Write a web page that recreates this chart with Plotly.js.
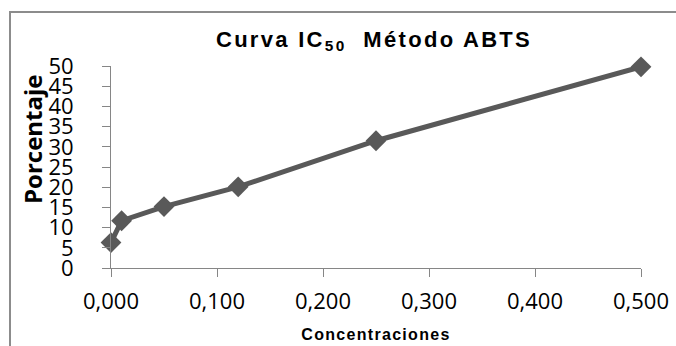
<!DOCTYPE html>
<html>
<head>
<meta charset="utf-8">
<script src="https://cdn.plot.ly/plotly-3.0.1.min.js"></script>
<style>
  html, body { margin: 0; padding: 0; background: #ffffff; }
  #wrap { position: relative; width: 676px; height: 346px; overflow: hidden; }
  #frame { position: absolute; left: 9px; top: 11px; width: 720px; height: 400px;
           border: 2px solid #8c8c8c; box-sizing: border-box; pointer-events: none; z-index: 2; }
  #chart { position: absolute; left: 0; top: 0; width: 676px; height: 346px; }
  #chart .gtitle { letter-spacing: 2.3px; }
  #chart .xtitle { letter-spacing: 1.3px; }
</style>
</head>
<body>
<div id="wrap">
  <div id="chart"></div>
  <div id="frame"></div>
</div>
<script>
// Concentraciones (x) y porcentaje de inhibición (y)
const concentraciones = [0.000, 0.010, 0.050, 0.120, 0.250, 0.500];
const porcentaje = [6.3, 11.7, 15.2, 20.1, 31.5, 49.8];

const xTicks = [0, 0.1, 0.2, 0.3, 0.4, 0.5];
const yTicks = [0, 5, 10, 15, 20, 25, 30, 35, 40, 45, 50];

const gris = '#595959';
const ejeColor = '#868686';

const trace = {
  x: concentraciones,
  y: porcentaje,
  type: 'scatter',
  mode: 'lines+markers',
  line: { color: gris, width: 5 },
  marker: { symbol: 'diamond', size: 16, color: gris },
  cliponaxis: false,
  hoverinfo: 'x+y'
};

const layout = {
  width: 676,
  height: 346,
  paper_bgcolor: '#ffffff',
  plot_bgcolor: '#ffffff',
  separators: ',.',
  showlegend: false,
  margin: { l: 111, r: 35, t: 66, b: 78 },
  title: {
    text: 'Curva IC<sub>50</sub>&nbsp; Método ABTS',
    font: { family: '"Liberation Sans", Arial, sans-serif', size: 22, color: '#000000', weight: 'bold' },
    x: 374 / 676,
    xanchor: 'center',
    xref: 'container',
    y: 1 - 39 / 346,
    yanchor: 'middle',
    yref: 'container'
  },
  xaxis: {
    range: [0, 0.5],
    tickmode: 'array',
    tickvals: xTicks,
    tickformat: '.3f',
    ticks: 'outside',
    ticklen: 8,
    tickcolor: ejeColor,
    tickwidth: 1,
    showline: true,
    linecolor: ejeColor,
    linewidth: 1,
    showgrid: false,
    zeroline: false,
    ticklabelstandoff: 6,
    tickfont: { family: '"Open Sans", sans-serif', size: 22, color: '#000000' },
    title: {
      text: 'Concentraciones',
      font: { family: '"Liberation Sans", Arial, sans-serif', size: 16, color: '#000000', weight: 'bold' },
      standoff: 14
    }
  },
  yaxis: {
    range: [0, 50],
    tickmode: 'array',
    tickvals: yTicks,
    ticks: 'outside',
    ticklen: 8,
    tickcolor: ejeColor,
    tickwidth: 1,
    showline: true,
    linecolor: ejeColor,
    linewidth: 1,
    showgrid: false,
    zeroline: false,
    ticklabelstandoff: 24,
    tickfont: { family: '"Open Sans", sans-serif', size: 22, color: '#000000' }
  },
  annotations: [{
    text: '<b>Porcentaje</b>',
    textangle: -90,
    xref: 'paper',
    yref: 'paper',
    x: -0.147,
    y: 0.639,
    xanchor: 'center',
    yanchor: 'middle',
    showarrow: false,
    font: { family: '"Open Sans", sans-serif', size: 24, color: '#000000' }
  }]
};

Plotly.newPlot('chart', [trace], layout, { displayModeBar: false, staticPlot: true });
</script>
</body>
</html>
